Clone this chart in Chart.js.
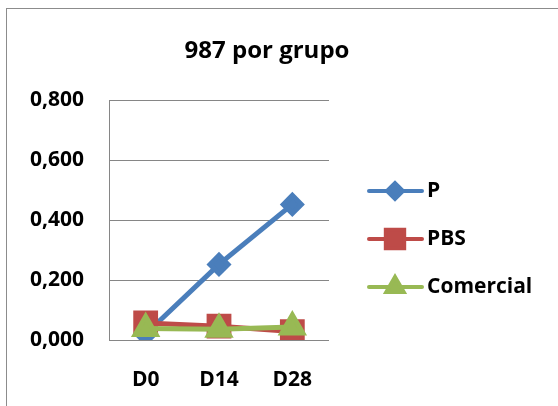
<!DOCTYPE html>
<html>
<head>
<meta charset="utf-8">
<script src="https://cdn.jsdelivr.net/npm/chart.js@4/dist/chart.umd.min.js"></script>
<style>
  html, body { margin: 0; padding: 0; background: #fff; }
  #wrap { width: 558px; height: 406px; position: relative; }
</style>
</head>
<body>
<div id="wrap"><canvas id="chart" width="558" height="406"></canvas></div>
<script>
// data
const labels = ['D0', 'D14', 'D28'];
const pValues = [0.02, 0.252, 0.452];
const pbsValues = [0.057, 0.046, 0.028];
const comercialValues = [0.038, 0.036, 0.043];
const seriesNames = ['P', 'PBS', 'Comercial'];
const chartTitle = '987 por grupo';

const FONT = '"Open Sans", Lato, sans-serif';
const gridColor = '#868686';
const legendRadius = { rectRot: 8, rect: 13, triangle: 10 };

// border, title and the legend (line + marker) drawn by hand
const decorPlugin = {
  id: 'decor',
  beforeDraw(chart) {
    const ctx = chart.ctx;
    ctx.save();
    ctx.fillStyle = '#fff';
    ctx.fillRect(0, 0, chart.width, chart.height);
    ctx.strokeStyle = '#8c8c8c';
    ctx.lineWidth = 1;
    ctx.strokeRect(6.5, 8.5, chart.width + 10, chart.height + 10);
    ctx.restore();
  },
  afterDraw(chart) {
    const ctx = chart.ctx;
    ctx.save();
    ctx.fillStyle = '#000';
    ctx.font = 'bold 24px ' + FONT;
    ctx.textAlign = 'center';
    ctx.textBaseline = 'middle';
    ctx.fillText(chartTitle, 267, 51);

    ctx.font = 'bold 21px ' + FONT;
    ctx.textAlign = 'left';
    chart.data.datasets.forEach((ds, i) => {
      const y = 191 + i * 48;
      ctx.strokeStyle = ds.borderColor;
      ctx.lineWidth = 4;
      ctx.lineCap = 'round';
      ctx.beginPath();
      ctx.moveTo(369, y);
      ctx.lineTo(422, y);
      ctx.stroke();
      ctx.fillStyle = ds.pointBackgroundColor;
      ctx.strokeStyle = ds.pointBorderColor;
      Chart.helpers.drawPoint(ctx, {
        pointStyle: ds.pointStyle,
        radius: legendRadius[ds.pointStyle],
        rotation: 0,
        borderWidth: 1
      }, 395, y);
      ctx.fillStyle = '#000';
      ctx.fillText(ds.label, 427, y);
    });
    ctx.restore();
  }
};

new Chart(document.getElementById('chart'), {
  type: 'line',
  data: {
    labels: labels,
    datasets: [
      {
        label: seriesNames[0],
        data: pValues,
        borderColor: '#4A7EBB',
        backgroundColor: '#4A7EBB',
        pointBackgroundColor: '#4A7EBB',
        pointBorderColor: '#4A7EBB',
        borderWidth: 5,
        pointStyle: 'rectRot',
        pointRadius: 9,
        pointHoverRadius: 9,
        tension: 0,
        order: 3
      },
      {
        label: seriesNames[1],
        data: pbsValues,
        borderColor: '#BE4B48',
        backgroundColor: '#BE4B48',
        pointBackgroundColor: '#BE4B48',
        pointBorderColor: '#BE4B48',
        borderWidth: 5,
        pointStyle: 'rect',
        pointRadius: 14,
        pointHoverRadius: 14,
        tension: 0,
        order: 2
      },
      {
        label: seriesNames[2],
        data: comercialValues,
        borderColor: '#98B954',
        backgroundColor: '#98B954',
        pointBackgroundColor: '#98B954',
        pointBorderColor: '#98B954',
        borderWidth: 5,
        pointStyle: 'triangle',
        pointRadius: 12,
        pointHoverRadius: 12,
        tension: 0,
        order: 1
      }
    ]
  },
  options: {
    responsive: false,
    animation: false,
    devicePixelRatio: 1,
    layout: { padding: { left: 0, right: 229, top: 100, bottom: 0 } },
    plugins: {
      legend: { display: false },
      title: { display: false },
      tooltip: { enabled: false }
    },
    scales: {
      x: {
        offset: true,
        grid: { display: false, drawTicks: false },
        border: { display: false },
        ticks: {
          padding: 27,
          color: '#000',
          font: { family: FONT, size: 21, weight: 'bold' }
        },
        afterFit(scale) { scale.height = 66; }
      },
      y: {
        min: 0,
        max: 0.8,
        grid: { color: gridColor, lineWidth: 1, drawTicks: false },
        border: { display: true, color: gridColor, width: 1 },
        ticks: {
          stepSize: 0.2,
          padding: 25,
          color: '#000',
          font: { family: FONT, size: 21, weight: 'bold' },
          callback: v => v.toFixed(3).replace('.', ',')
        },
        afterFit(scale) { scale.width = 109; }
      }
    }
  },
  plugins: [decorPlugin]
});
</script>
</body>
</html>
